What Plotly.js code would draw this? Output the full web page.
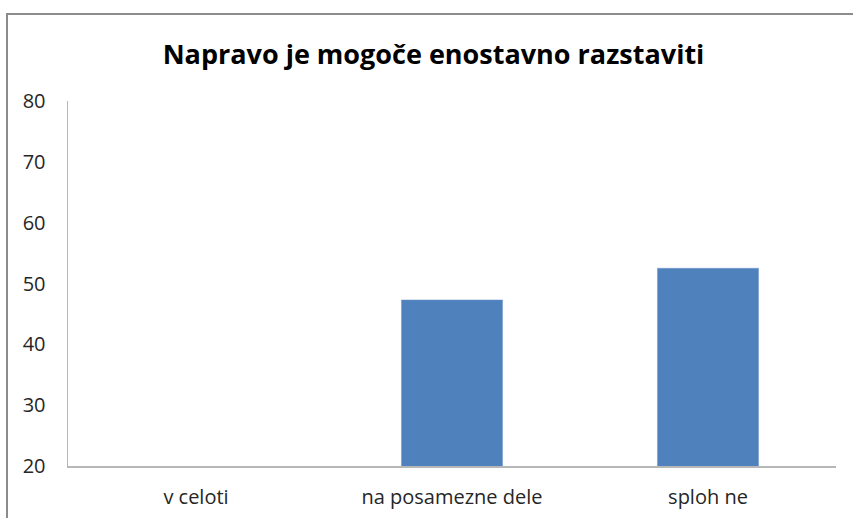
<!DOCTYPE html>
<html>
<head>
<meta charset="utf-8">
<script src="https://cdn.plot.ly/plotly-3.0.1.min.js"></script>
<style>html,body{margin:0;padding:0;background:#fff;}#chart{width:853px;height:518px;}</style>
</head>
<body>
<div id="chart"></div>
<script>
var categories = ["v celoti", "na posamezne dele", "sploh ne"];
var values = [0, 47.3, 52.5];
var yTicks = [20, 30, 40, 50, 60, 70, 80];
var titleText = "Napravo je mogoče enostavno razstaviti";

var W = 853, H = 518, L = 68, R = 17, T = 101, B = 52;
var pw = W - L - R, ph = H - T - B;

var trace = {
  type: "bar",
  x: categories,
  y: values,
  marker: {color: "#4f81bd", line: {color: "#6f97cc", width: 0.5}},
  hoverinfo: "x+y"
};

var layout = {
  width: W, height: H,
  margin: {l: L, r: R, t: T, b: B, pad: 0},
  paper_bgcolor: "#ffffff",
  plot_bgcolor: "#ffffff",
  showlegend: false,
  bargap: 0.605,
  title: {
    text: "<b>" + titleText + "</b>",
    font: {family: "Open Sans, sans-serif", size: 27, color: "#000000"},
    x: 433.5 / W, xanchor: "center", xref: "container",
    y: 1 - 55 / H, yanchor: "middle", yref: "container"
  },
  font: {family: "Open Sans, sans-serif", color: "#262626"},
  xaxis: {
    type: "category",
    showline: true, linecolor: "#b7b7b7", linewidth: 1.5,
    showgrid: false, zeroline: false,
    ticks: "", ticklabelstandoff: 12,
    tickfont: {family: "Open Sans, sans-serif", size: 20, color: "#262626"},
    fixedrange: true
  },
  yaxis: {
    range: [20, 80],
    tickvals: yTicks,
    ticktext: yTicks.map(String),
    showline: true, linecolor: "#b7b7b7", linewidth: 1.5,
    showgrid: false, zeroline: false,
    ticks: "", ticklabelstandoff: 17,
    tickfont: {family: "Open Sans, sans-serif", size: 20, color: "#262626"},
    fixedrange: true
  },
  shapes: [{
    type: "rect", xref: "paper", yref: "paper",
    x0: (7 - L) / pw, x1: (W + 10 - L) / pw,
    y0: -(B + 10) / ph, y1: 1 + (T - 14) / ph,
    line: {color: "#8c8c8c", width: 2},
    fillcolor: "rgba(0,0,0,0)",
    layer: "below"
  }]
};

Plotly.newPlot("chart", [trace], layout, {displayModeBar: false, staticPlot: true});
</script>
</body>
</html>
